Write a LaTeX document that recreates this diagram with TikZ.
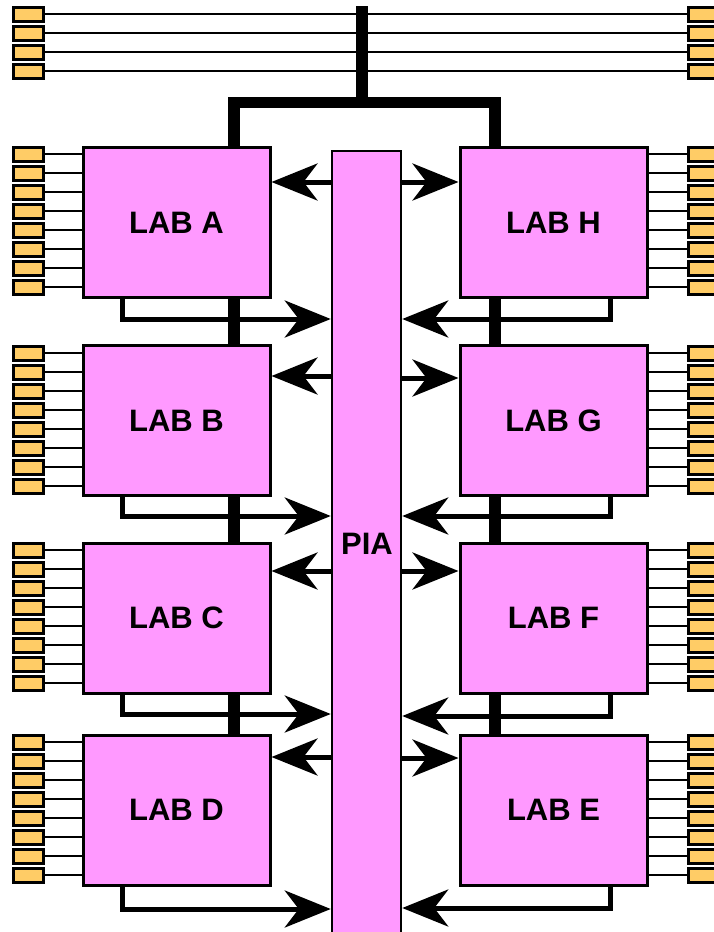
\documentclass[tikz,border=0pt]{standalone}
\usepackage{fontspec}
\setmainfont{Liberation Sans}
\usetikzlibrary{arrows.meta}
\definecolor{labpink}{HTML}{FF99FF}
\definecolor{pinfill}{HTML}{FFCC66}
\tikzset{
  labbox/.style={draw=black, line width=3pt, fill=labpink, rectangle, inner sep=0pt,
    minimum width=187pt, minimum height=150pt, font=\fontsize{31}{36}\selectfont\bfseries},
  piabox/.style={draw=black, line width=2.5pt, fill=labpink, rectangle, inner sep=0pt,
    minimum width=69pt, minimum height=800pt},
  pialabel/.style={inner sep=0pt, font=\fontsize{31}{36}\selectfont\bfseries},
  pinbox/.style={draw=black, line width=3pt, fill=pinfill, rectangle, inner sep=0pt,
    minimum width=30pt, minimum height=14pt},
  wire/.style={draw=black, line width=2.5pt},
  bus/.style={draw=black, line width=11.5pt, line join=miter, line cap=butt},
  arr/.style={draw=black, line width=5pt, -{Stealth[length=46pt, width=37pt, inset=14pt]}},
}
\begin{document}
\begin{tikzpicture}[x=1pt,y=-1pt]
\useasboundingbox (0,0) rectangle (713,932);

% top pins and lines
\foreach \i/\yy in {1/14,2/33,3/52,4/71}{
  \node[pinbox] (tl\i) at (28,\yy) {};
  \node[pinbox] (tr\i) at (703,\yy) {};
  \draw[wire] (tl\i.east) -- (tr\i.west);
}

% buses
\coordinate (busTop) at (362,6);
\coordinate (busMid) at (362,102.5);
\coordinate (busL) at (234,102.5);
\coordinate (busR) at (495,102.5);
\coordinate (busLend) at (234,740);
\coordinate (busRend) at (495,740);
\draw[bus] (busTop) -- (busMid);
\draw[bus] (busLend) -- (busL) -- (busR) -- (busRend);

% LAB boxes
\node[labbox] (labA) at (176.5,222.5) {LAB A};
\node[labbox] (labB) at (176.5,420.5) {LAB B};
\node[labbox] (labC) at (176.5,618) {LAB C};
\node[labbox] (labD) at (176.5,810) {LAB D};
\node[labbox] (labH) at (553.5,222.5) {LAB H};
\node[labbox] (labG) at (553.5,420.5) {LAB G};
\node[labbox] (labF) at (553.5,618) {LAB F};
\node[labbox] (labE) at (553.5,810) {LAB E};

% PIA
\node[piabox] (pia) at (366.5,551) {};
\node[pialabel] (piaText) at (367,544) {PIA};

% side pins
\foreach \lab/\top in {A/147,B/346,C/543,D/735}{
  \foreach \k in {0,...,7}{
    \pgfmathsetmacro{\py}{\top+7+19*\k}
    \node[pinbox] (p\lab\k) at (28,\py) {};
    \draw[wire] (p\lab\k.east) -- (lab\lab.west |- p\lab\k.east);
  }
}
\foreach \lab/\top in {H/147,G/346,F/543,E/735}{
  \foreach \k in {0,...,7}{
    \pgfmathsetmacro{\py}{\top+7+19*\k}
    \node[pinbox] (p\lab\k) at (703,\py) {};
    \draw[wire] (lab\lab.east |- p\lab\k.west) -- (p\lab\k.west);
  }
}

% inputs from PIA to LABs
\foreach \lab/\yy in {A/182,B/376,C/571,D/757}{
  \draw[arr] (pia.west |- 0,\yy) -- (lab\lab.east |- 0,\yy);
}
\foreach \lab/\yy in {H/182,G/378,F/571,E/758}{
  \draw[arr] (pia.east |- 0,\yy) -- (lab\lab.west |- 0,\yy);
}

% outputs from LABs to PIA
\foreach \lab/\yy in {A/319,B/516,C/714,D/909}{
  \draw[arr] ([xshift=41pt]lab\lab.south west) |- (pia.west |- 0,\yy);
}
\foreach \lab/\yy in {H/319,G/516,F/716,E/908}{
  \draw[arr] ([xshift=-38pt]lab\lab.south east) |- (pia.east |- 0,\yy);
}
\end{tikzpicture}
\end{document}
